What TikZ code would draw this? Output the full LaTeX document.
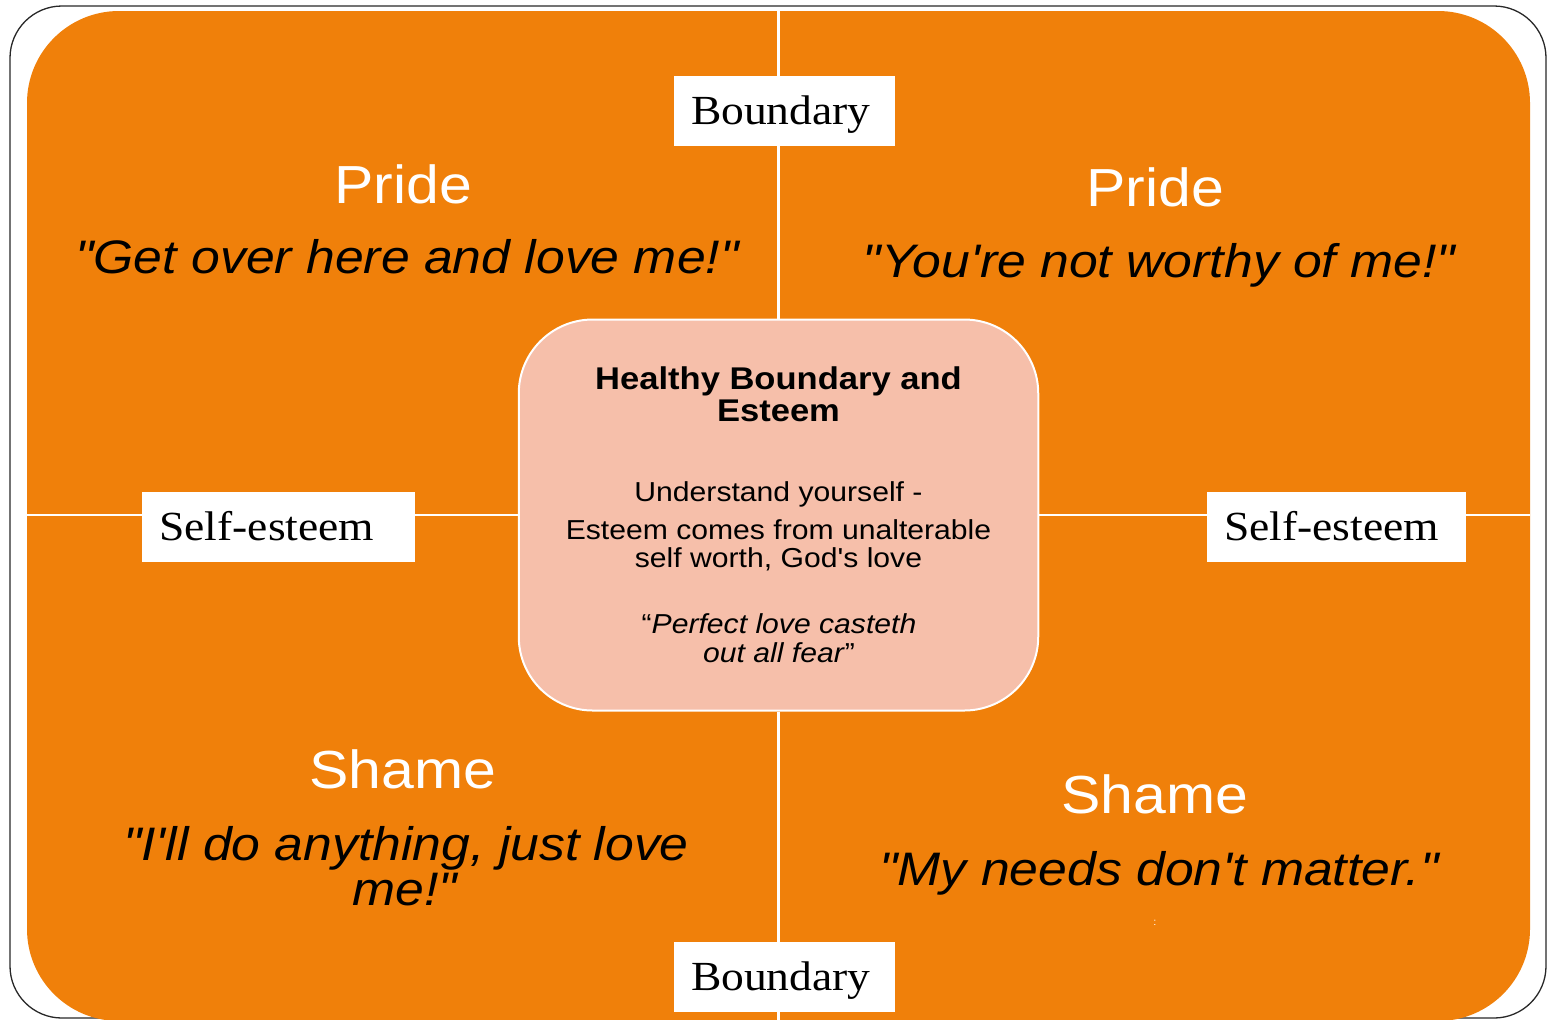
\documentclass[tikz,border=0pt]{standalone}
\usepackage{fontspec}
\newfontfamily\sansfam[FakeStretch=1.1]{Liberation Sans}
\newfontfamily\seriffam[FakeStretch=1.1]{Liberation Serif}
\definecolor{panel}{RGB}{240,128,10}
\definecolor{corefill}{RGB}{246,191,170}
\definecolor{frame}{RGB}{40,40,40}

\begin{document}
\begin{tikzpicture}[x=0.5pt,y=-0.5pt,
  tag/.style={fill=white, inner xsep=8.5pt, inner ysep=0pt, minimum height=35pt,
    text height=13pt, text depth=0pt, align=left,
    font=\seriffam\fontsize{20.7}{24}\selectfont},
  head/.style={anchor=base, inner sep=0pt, text=white,
    font=\sansfam\fontsize{26.8}{30}\selectfont},
  cry/.style={anchor=base, inner sep=0pt, text=black,
    font=\sansfam\itshape\fontsize{23.5}{27}\selectfont},
  corehead/.style={anchor=base, inner sep=0pt, text=black,
    font=\sansfam\bfseries\fontsize{15.7}{18}\selectfont},
  coretext/.style={anchor=base, inner sep=0pt, text=black,
    font=\sansfam\fontsize{13.7}{16}\selectfont},
  divider/.style={draw=white, line width=1.3pt},
  corebox/.style={draw=white, line width=1pt, fill=corefill, rounded corners=37pt,
    minimum width=259.75pt, minimum height=195.5pt, inner sep=0pt}
]
\useasboundingbox (0,0) rectangle (1557,1019);
\clip (0,0) rectangle (1557,1019);

% outer frame and orange panel
\draw[frame, line width=0.65pt, rounded corners=26pt] (10,6) rectangle (1546,1018);
\fill[panel, rounded corners=46pt] (27,11) rectangle (1530,1021);

% centre box
\node[corebox] (core) at (778.5,515) {};

% dividers from the panel edges to the centre box
\coordinate (ntop) at (778.5,11);
\coordinate (nbot) at (778.5,1021);
\coordinate (wleft) at (27,515);
\coordinate (eright) at (1530,515);
\draw[divider] (ntop) -- (core.north);
\draw[divider] (core.south) -- (nbot);
\draw[divider] (wleft) -- (core.west);
\draw[divider] (core.east) -- (eright);

% labels on the dividers
\node[tag, text width=93.5pt] (btop) at (784.5,111) {Boundary};
\node[tag, text width=93.5pt] (bbot) at (784.5,977) {Boundary};
\node[tag, text width=119.35pt] (sleft) at (278.65,527.3) {Self-esteem};
\node[tag, text width=112.5pt] (sright) at (1336.5,527.3) {Self-esteem};

% quadrants
\node[head] (prideL) at (403,203.3) {Pride};
\node[cry] (cryPL) at (407,273.3) {"Get over here and love me!"};
\node[head] (prideR) at (1155,206.3) {Pride};
\node[cry] (cryPR) at (1159,277.3) {"You're not worthy of me!"};
\node[head] (shameL) at (403,788) {Shame};
\node[cry] (crySL1) at (406,860.5) {"I'll do anything, just love};
\node[cry] (crySL2) at (405,905.5) {me!"};
\node[head] (shameR) at (1155,813) {Shame};
\node[cry] (crySR) at (1159,885.6) {"My needs don't matter."};
\node[anchor=base, inner sep=0pt, text=white, font=\sansfam\fontsize{5}{6}\selectfont] (dot) at (1155,925) {:};

% centre box text
\node[corehead] (ch1) at (778.5,389) {Healthy Boundary and};
\node[corehead] (ch2) at (778.5,421) {Esteem};
\node[coretext] (ct1) at (778.5,501) {Understand yourself -};
\node[coretext] (ct2) at (778.5,539) {Esteem comes from unalterable};
\node[coretext] (ct3) at (778.5,567) {self worth, God's love};
\node[coretext] (ct4) at (779,633) {“\textit{Perfect love casteth}};
\node[coretext] (ct5) at (779,662) {\textit{out all fear}”};
\end{tikzpicture}
\end{document}
